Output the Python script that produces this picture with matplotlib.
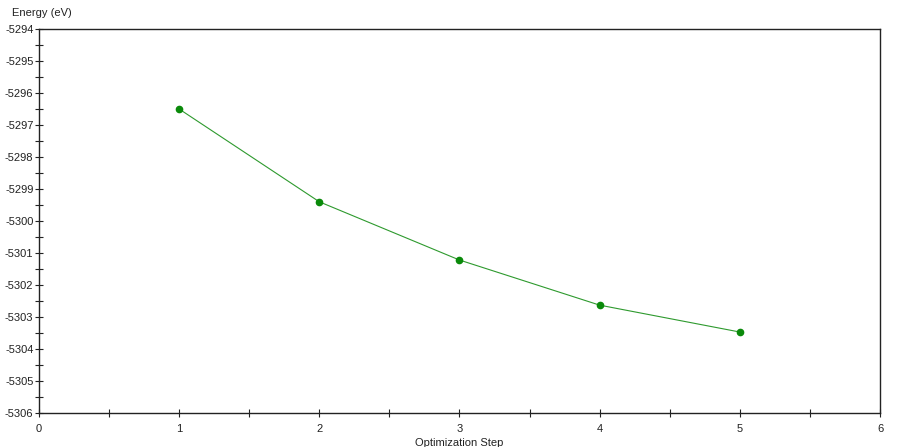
import matplotlib

matplotlib.use("Agg")
import matplotlib.pyplot as plt
from matplotlib.ticker import MultipleLocator

# optimisation steps and total energy per step (eV)
steps = [1, 2, 3, 4, 5]
energy = [-5296.5, -5299.4, -5301.22, -5302.63, -5303.47]

x_ticks = [0, 1, 2, 3, 4, 5, 6]
y_ticks = list(range(-5306, -5293))

plt.rcParams["font.family"] = ["Liberation Sans", "DejaVu Sans"]
plt.rcParams["axes.unicode_minus"] = False  # plain hyphen, like the reference

fig = plt.figure(figsize=(9, 4.47), dpi=100)
ax = fig.add_axes([0.0433, 0.0761, 0.9345, 0.859])

ax.plot(steps, energy, color="#2e9a2e", linewidth=0.8)
ax.plot(steps, energy, "o", color="#0a8a0a", markersize=4.5, linestyle="none")

ax.set_xlim(0, 6)
ax.set_ylim(-5306, -5294)
ax.set_xticks(x_ticks)
ax.set_yticks(y_ticks)
ax.xaxis.set_minor_locator(MultipleLocator(0.5))
ax.yaxis.set_minor_locator(MultipleLocator(0.5))
ax.tick_params(which="both", direction="inout", length=6, width=0.8,
               labelsize=8, colors="#222222", pad=1)
ax.tick_params(axis="x", pad=5)

for side in ("top", "right", "bottom", "left"):
    ax.spines[side].set_color("#222222")
    ax.spines[side].set_linewidth(1.0)

fig.text(0.013, 0.972, "Energy (eV)", fontsize=8, color="#222222", va="center")
fig.text(0.51, -0.002, "Optimization Step", fontsize=8, color="#222222",
         ha="center", va="bottom")

fig.savefig("out.png", dpi=100)
